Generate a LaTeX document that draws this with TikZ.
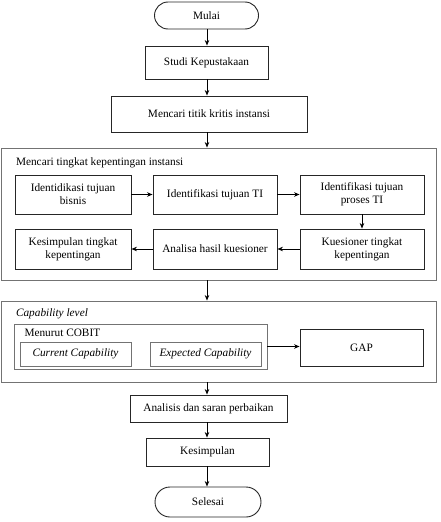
\documentclass[tikz,border=0pt]{standalone}
\usepackage{fontspec}
\setmainfont{Liberation Serif}
\usepackage{tikz}
\usetikzlibrary{arrows.meta,shapes.misc}

\begin{document}
\begin{tikzpicture}[x=1pt,y=-1pt,
    font=\fontsize{11.3}{13}\selectfont,
    kotak/.style={draw=black!85,line width=0.9pt,align=center,inner sep=1pt},
    ujung/.style={draw=black!85,line width=0.9pt,rounded rectangle,inner sep=1pt},
    grup/.style={draw=black!55,line width=0.9pt,inner sep=0pt},
    panah/.style={-{Stealth[length=5.5pt,width=4.5pt]},line width=0.9pt}]
    \useasboundingbox (0,0) rectangle (440,522);
    % alur utama
    \node[ujung,minimum width=106pt,minimum height=27pt] (mulai) at (206.5,15.5) {Mulai};
    \node[kotak,minimum width=123pt,minimum height=33pt] (studi) at (206.5,62.5) {Studi Kepustakaan};
    \node[kotak,minimum width=196pt,minimum height=36pt] (kritis) at (209,114) {Mencari titik kritis instansi};
    % tingkat kepentingan
    \node[grup,minimum width=435pt,minimum height=132pt] (tingkat) at (218.5,214) {};
    \node[anchor=west] (judulA) at (12.5,163) {Mencari tingkat kepentingan instansi};
    \node[kotak,minimum width=116pt,minimum height=39pt] (bisnis) at (73,194.5) {Identidikasi tujuan\\bisnis};
    \node[kotak,minimum width=124pt,minimum height=39pt] (tujuanti) at (215,194.5) {Identifikasi tujuan TI};
    \node[kotak,minimum width=124pt,minimum height=39pt] (prosesti) at (362,194.5) {Identifikasi tujuan\\proses TI};
    \node[kotak,minimum width=124pt,minimum height=40pt] (kuesioner) at (362,249) {Kuesioner tingkat\\kepentingan};
    \node[kotak,minimum width=124pt,minimum height=40pt] (analisa) at (215,249) {Analisa hasil kuesioner};
    \node[kotak,minimum width=116pt,minimum height=40pt] (simpulA) at (73,249) {Kesimpulan tingkat\\kepentingan};
    % capability level
    \node[grup,minimum width=435pt,minimum height=81pt] (capability) at (218.5,341.5) {};
    \node[anchor=west] (judulB) at (12.5,314) {\textit{Capability level}};
    \node[grup,minimum width=253pt,minimum height=45pt] (cobit) at (140.5,346.5) {};
    \node[anchor=west] (judulC) at (21,333) {Menurut COBIT};
    \node[grup,minimum width=111pt,minimum height=24pt] (current) at (75.5,354) {\textit{Current Capability}};
    \node[grup,minimum width=111pt,minimum height=24pt] (expected) at (205.5,354) {\textit{Expected Capability}};
    \node[kotak,minimum width=123pt,minimum height=37pt] (gap) at (361.5,347.5) {GAP};
    % akhir
    \node[kotak,minimum width=157pt,minimum height=27pt] (analisis) at (208.5,408.5) {Analisis dan saran perbaikan};
    \node[kotak,minimum width=123pt,minimum height=28pt] (kesimpulan) at (207.5,452) {Kesimpulan};
    \node[ujung,minimum width=108pt,minimum height=30pt] (selesai) at (208,502) {Selesai};
    % panah
    \draw[panah] (207,0 |- mulai.south) -- (207,0 |- studi.north);
    \draw[panah] (207,0 |- studi.south) -- (207,0 |- kritis.north);
    \draw[panah] (207,0 |- kritis.south) -- (207,0 |- tingkat.north);
    \draw[panah] (bisnis) -- (tujuanti);
    \draw[panah] (tujuanti) -- (prosesti);
    \draw[panah] (prosesti) -- (kuesioner);
    \draw[panah] (kuesioner) -- (analisa);
    \draw[panah] (analisa) -- (simpulA);
    \draw[panah] (207,0 |- tingkat.south) -- (207,0 |- capability.north);
    \draw[panah] (cobit.east) -- (cobit.east -| gap.west);
    \draw[panah] (207,0 |- capability.south) -- (207,0 |- analisis.north);
    \draw[panah] (207,0 |- analisis.south) -- (207,0 |- kesimpulan.north);
    \draw[panah] (207,0 |- kesimpulan.south) -- (207,0 |- selesai.north);
\end{tikzpicture}
\end{document}
